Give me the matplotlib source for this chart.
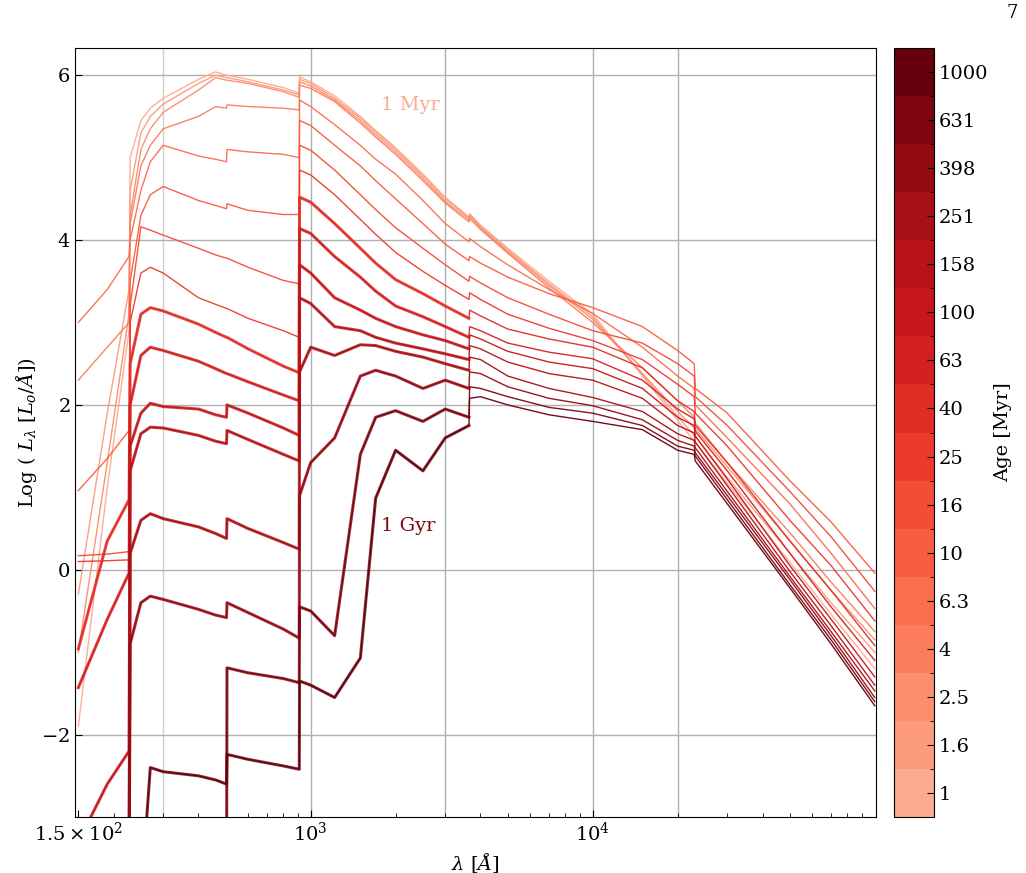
import numpy as np
import matplotlib
matplotlib.use("Agg")
import matplotlib.pyplot as plt
from matplotlib.colors import ListedColormap, BoundaryNorm
from matplotlib.cm import ScalarMappable
from matplotlib.ticker import FixedLocator, NullFormatter

plt.rcParams['font.family'] = 'DejaVu Serif'
plt.rcParams['mathtext.fontset'] = 'dejavuserif'

# ages of the SSP spectra [Myr] and colorbar labels
ages = [1, 1.6, 2.5, 4, 6.3, 10, 16, 25, 40, 63, 100, 158, 251, 398, 631, 1000]
age_labels = ['1', '1.6', '2.5', '4', '6.3', '10', '16', '25', '40', '63',
              '100', '158', '251', '398', '631', '1000']

# wavelength grid [A] (repeated values around the He II, He I, Lyman, Balmer and CO breaks)
wl = [150, 190, 227, 229, 250, 270, 300, 400, 460, 503,
      505, 600, 800, 911, 913, 1000, 1216, 1500, 1700, 2000,
      2500, 3000, 3640, 3660, 4000, 5000, 7000, 10000, 15000, 20000,
      22900, 23100, 30000, 50000, 70000, 100000]

# log L_lambda, one list per age
L_1 = [-1.9, 1.0, 2.9, 5.0, 5.45, 5.6, 5.72, 5.95, 6.04, 6.0,
       6.0, 5.95, 5.85, 5.78, 5.98, 5.92, 5.75, 5.5, 5.33, 5.12,
       4.8, 4.52, 4.28, 4.32, 4.18, 3.9, 3.5, 3.1, 2.35, 1.81,
       1.56, 1.55, 1.05, 0.09, -0.54, -1.2]
L_1p6 = [-0.3, 1.9, 3.4, 4.6, 5.3, 5.5, 5.65, 5.9, 6.0, 5.97,
         5.97, 5.92, 5.82, 5.76, 5.95, 5.9, 5.72, 5.48, 5.31, 5.1,
         4.78, 4.5, 4.27, 4.31, 4.17, 3.88, 3.47, 3.07, 2.37, 1.86,
         1.63, 1.62, 1.12, 0.2, -0.4, -1.0]
L_2p5 = [-1.0, 1.3, 3.1, 4.3, 5.1, 5.35, 5.55, 5.82, 5.97, 5.94,
         5.94, 5.9, 5.8, 5.73, 5.92, 5.87, 5.7, 5.45, 5.28, 5.07,
         4.75, 4.47, 4.25, 4.29, 4.15, 3.86, 3.45, 3.04, 2.38, 1.92,
         1.72, 1.71, 1.25, 0.35, -0.25, -0.85]
L_4 = [2.3, 2.7, 3.0, 4.2, 4.9, 5.15, 5.35, 5.5, 5.62, 5.6,
       5.64, 5.62, 5.6, 5.58, 5.88, 5.84, 5.68, 5.42, 5.25, 5.04,
       4.72, 4.45, 4.22, 4.26, 4.13, 3.84, 3.42, 3.0, 2.45, 2.05,
       1.85, 1.78, 1.3, 0.45, -0.15, -0.75]
L_6p3 = [3.0, 3.4, 3.8, 4.0, 4.6, 4.95, 5.15, 5.02, 4.98, 4.95,
         5.1, 5.07, 5.04, 5.0, 5.7, 5.62, 5.4, 5.15, 4.98, 4.8,
         4.48, 4.2, 3.98, 4.02, 3.92, 3.7, 3.4, 3.11, 2.7, 2.35,
         2.2, 2.0, 1.6, 0.8, 0.2, -0.47]
L_10 = [0.96, 1.35, 1.69, 3.5, 4.3, 4.55, 4.65, 4.48, 4.42, 4.38,
        4.44, 4.36, 4.31, 4.31, 5.45, 5.39, 5.15, 4.9, 4.72, 4.5,
        4.2, 3.95, 3.75, 3.8, 3.72, 3.55, 3.35, 3.18, 2.95, 2.66,
        2.5, 2.2, 1.9, 1.08, 0.58, -0.04]
L_16 = [0.17, 0.19, 0.22, 3.2, 4.16, 4.12, 4.06, 3.9, 3.82, 3.78,
        3.78, 3.67, 3.51, 3.47, 5.15, 5.09, 4.85, 4.55, 4.37, 4.15,
        3.9, 3.7, 3.5, 3.56, 3.48, 3.3, 3.1, 2.9, 2.75, 2.5,
        2.35, 2.1, 1.75, 0.95, 0.4, -0.26]
L_25 = [0.1, 0.11, 0.12, 3.0, 3.6, 3.67, 3.6, 3.3, 3.22, 3.17,
        3.17, 3.05, 2.9, 2.82, 4.85, 4.79, 4.55, 4.25, 4.07, 3.85,
        3.62, 3.45, 3.28, 3.36, 3.28, 3.1, 2.93, 2.78, 2.55, 2.25,
        2.1, 1.9, 1.5, 0.6, 0.05, -0.62]
L_40 = [-0.96, 0.35, 0.85, 2.5, 3.1, 3.18, 3.14, 2.98, 2.88, 2.82,
        2.82, 2.68, 2.47, 2.39, 4.52, 4.46, 4.2, 3.9, 3.72, 3.52,
        3.35, 3.2, 3.05, 3.15, 3.08, 2.92, 2.8, 2.7, 2.45, 2.05,
        1.92, 1.75, 1.3, 0.35, -0.25, -0.92]
L_63 = [-1.43, -0.6, -0.04, 2.0, 2.6, 2.7, 2.66, 2.53, 2.44, 2.38,
        2.38, 2.28, 2.12, 2.05, 4.14, 4.08, 3.8, 3.55, 3.38, 3.2,
        3.07, 2.95, 2.82, 2.95, 2.9, 2.75, 2.64, 2.56, 2.3, 1.95,
        1.83, 1.68, 1.2, 0.2, -0.45, -1.1]
L_100 = [-3.3, -2.6, -2.2, 1.5, 1.9, 2.02, 1.98, 1.95, 1.88, 1.85,
         2.0, 1.9, 1.72, 1.63, 3.7, 3.6, 3.3, 3.15, 3.05, 2.95,
         2.85, 2.78, 2.68, 2.85, 2.8, 2.65, 2.52, 2.44, 2.2, 1.85,
         1.75, 1.62, 1.1, 0.05, -0.6, -1.3]
L_158 = [-4, -4, -4, 1.2, 1.65, 1.73, 1.72, 1.63, 1.56, 1.53,
         1.69, 1.58, 1.4, 1.32, 3.3, 3.23, 2.95, 2.9, 2.82, 2.75,
         2.68, 2.62, 2.55, 2.72, 2.68, 2.52, 2.38, 2.3, 2.08, 1.75,
         1.66, 1.55, 1.02, -0.02, -0.68, -1.4]
L_251 = [-4, -4, -4, 0.2, 0.6, 0.68, 0.62, 0.52, 0.44, 0.38,
         0.62, 0.5, 0.33, 0.25, 2.4, 2.7, 2.6, 2.73, 2.72, 2.65,
         2.58, 2.5, 2.42, 2.58, 2.55, 2.35, 2.2, 2.09, 1.92, 1.65,
         1.57, 1.48, 0.95, -0.08, -0.75, -1.47]
L_398 = [-4, -4, -4, -0.9, -0.4, -0.32, -0.36, -0.48, -0.55, -0.58,
         -0.4, -0.52, -0.72, -0.83, 0.9, 1.3, 1.6, 2.35, 2.42, 2.35,
         2.2, 2.3, 2.2, 2.4, 2.38, 2.22, 2.08, 1.99, 1.82, 1.57,
         1.5, 1.42, 0.9, -0.12, -0.8, -1.55]
L_631 = [-4, -4, -4, -4, -4, -4, -4, -4, -4, -4,
         -1.19, -1.25, -1.32, -1.37, -0.45, -0.5, -0.8, 1.4, 1.85, 1.93,
         1.8, 1.95, 1.85, 2.22, 2.2, 2.1, 1.97, 1.9, 1.75, 1.5,
         1.45, 1.38, 0.85, -0.18, -0.85, -1.6]
L_1000 = [-4, -4, -4, -4, -4, -2.4, -2.45, -2.5, -2.55, -2.6,
          -2.24, -2.3, -2.38, -2.42, -1.35, -1.4, -1.55, -1.07, 0.87, 1.45,
          1.2, 1.6, 1.75, 2.08, 2.1, 2.0, 1.88, 1.8, 1.7, 1.45,
          1.4, 1.32, 0.8, -0.22, -0.9, -1.65]

spectra = [L_1, L_1p6, L_2p5, L_4, L_6p3, L_10, L_16, L_25, L_40, L_63,
           L_100, L_158, L_251, L_398, L_631, L_1000]

colors = plt.cm.Reds(np.linspace(0.3, 1.0, len(ages)))
cmap = ListedColormap(colors)
norm = BoundaryNorm(np.arange(len(ages) + 1), cmap.N)

fig = plt.figure(figsize=(10.26, 8.73), dpi=100)
ax = fig.add_axes([0.0731, 0.0641, 0.7807, 0.8809])
cax = fig.add_axes([0.8713, 0.0641, 0.039, 0.8809])

wl = np.array(wl)
uv = wl <= 3640
for i, L in enumerate(spectra):
    L = np.array(L)
    ax.plot(wl, L, color=colors[i], lw=1.0, alpha=0.95)
    # older populations: dense line forest in the UV looks like a thick band
    if ages[i] >= 40:
        ax.plot(wl[uv], L[uv], color=colors[i], lw=2.2, alpha=0.8)

ax.set_xscale('log')
ax.set_xlim(146, 1.01e5)
ax.set_ylim(-3, 6.33)
ax.set_yticks([-2, 0, 2, 4, 6])
ax.set_yticklabels(['$-2$', '$0$', '$2$', '$4$', '$6$'])
ax.set_xticks([150, 1e3, 1e4])
ax.set_xticklabels([r'$1.5\times10^{2}$', r'$10^{3}$', r'$10^{4}$'])
ax.xaxis.set_minor_formatter(NullFormatter())
ax.tick_params(which='both', direction='in', labelsize=14)
ax.tick_params(which='major', length=5)
ax.tick_params(which='minor', length=3)
ax.grid(axis='y', color='#b0b0b0', lw=1)
ax.axvline(300, color='#d0d0d0', lw=1, zorder=0)
for xv in [1e3, 3e3, 1e4, 2e4]:
    ax.axvline(xv, color='#b0b0b0', lw=1, zorder=0)
ax.set_axisbelow(True)

ax.set_xlabel(r'$\lambda\ [\AA]$', fontsize=14)
ax.set_ylabel(r'Log ( $L_\lambda\ [L_o/\AA]$)', fontsize=14, labelpad=2)

ax.text(1780, 5.64, '1 Myr', color=colors[0], fontsize=14, va='center')
ax.text(1780, 0.53, '1 Gyr', color=colors[-2], fontsize=14, va='center')

sm = ScalarMappable(norm=norm, cmap=cmap)
cb = fig.colorbar(sm, cax=cax)
cb.set_ticks(np.arange(len(ages)) + 0.5)
cb.set_ticklabels(age_labels)
cb.ax.yaxis.set_minor_locator(FixedLocator(np.arange(1, len(ages))))
cb.ax.tick_params(which='both', direction='in', labelsize=14)
cb.ax.tick_params(which='major', length=5)
cb.ax.tick_params(which='minor', length=3)
cb.set_label('Age [Myr]', fontsize=14, labelpad=4)

fig.text(0.992, 0.995, '7', fontsize=13, ha='right', va='top')

fig.savefig('out.png', dpi=100)
